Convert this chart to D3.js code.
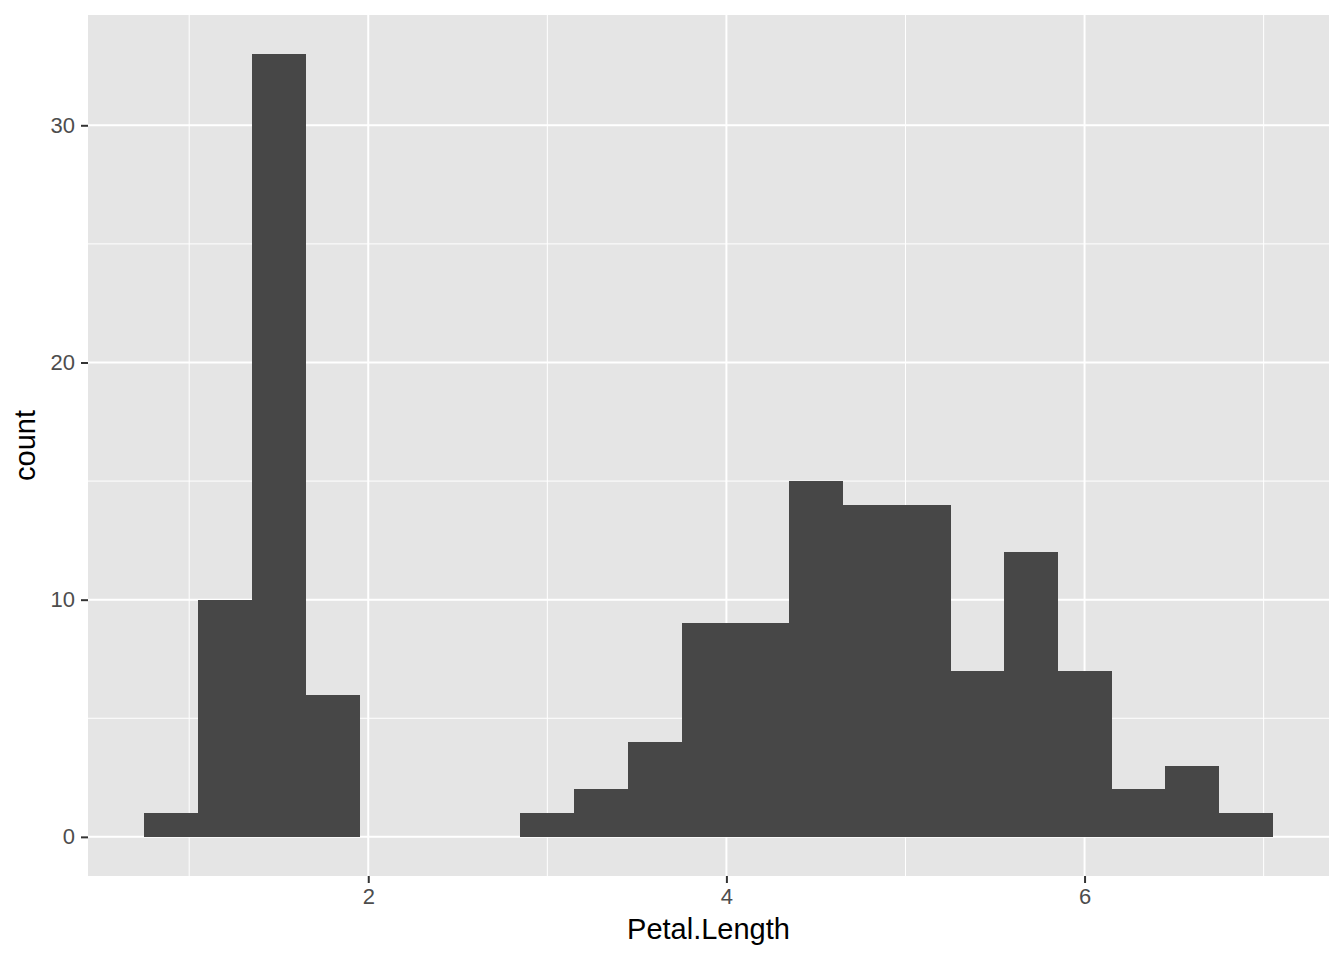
<!DOCTYPE html>
<html lang="en">
<head>
<meta charset="UTF-8">
<title>Petal.Length histogram</title>
<style>
  body { margin: 0; background: #fff; }
  text { font-family: "Liberation Sans", Arial, sans-serif; }
</style>
</head>
<body>
<svg width="1344" height="960"></svg>
<script src="https://cdn.jsdelivr.net/npm/d3@7"></script>
<script>
// histogram bins of iris Petal.Length, binwidth 0.3
var binStarts = [0.75, 1.05, 1.35, 1.65, 1.95, 2.25, 2.55, 2.85, 3.15, 3.45, 3.75,
                 4.05, 4.35, 4.65, 4.95, 5.25, 5.55, 5.85, 6.15, 6.45, 6.75];
var binWidth = 0.3;
var counts = [1, 10, 33, 6, 0, 0, 0, 1, 2, 4, 9, 9, 15, 14, 14, 7, 12, 7, 2, 3, 1];
var xTicks = [2, 4, 6];
var xMinor = [1, 3, 5, 7];
var yTicks = [0, 10, 20, 30];
var yMinor = [5, 15, 25];

var svg = d3.select("svg"),
    margin = {top: 15, right: 15, bottom: 84, left: 88},
    width = 1344 - margin.left - margin.right,
    height = 960 - margin.top - margin.bottom;

var g = svg.append("g").attr("transform", "translate(" + margin.left + "," + margin.top + ")");

// ggplot-style 5% expansion
var xMin = binStarts[0], xMax = binStarts[binStarts.length - 1] + binWidth;
var xPad = (xMax - xMin) * 0.05;
var x = d3.scaleLinear().domain([xMin - xPad, xMax + xPad]).range([0, width]);
var yMax = d3.max(counts);
var y = d3.scaleLinear().domain([-yMax * 0.05, yMax * 1.05]).range([height, 0]);

// panel
g.append("rect").attr("width", width).attr("height", height).attr("fill", "#E5E5E5");

// grid
function vlines(vals, w) {
  g.append("g").selectAll("line").data(vals).enter().append("line")
      .attr("x1", function(d) { return x(d); }).attr("x2", function(d) { return x(d); })
      .attr("y1", 0).attr("y2", height)
      .attr("stroke", "#fff").attr("stroke-width", w);
}
function hlines(vals, w) {
  g.append("g").selectAll("line").data(vals).enter().append("line")
      .attr("y1", function(d) { return y(d); }).attr("y2", function(d) { return y(d); })
      .attr("x1", 0).attr("x2", width)
      .attr("stroke", "#fff").attr("stroke-width", w);
}
vlines(xMinor, 1);
hlines(yMinor, 1);
vlines(xTicks, 2);
hlines(yTicks, 2);

// bars
g.append("g").attr("shape-rendering", "crispEdges")
  .selectAll("rect").data(counts).enter().append("rect")
    .attr("x", function(d, i) { return x(binStarts[i]); })
    .attr("width", function(d, i) { return x(binStarts[i] + binWidth) - x(binStarts[i]) + 0.5; })
    .attr("y", function(d) { return y(d); })
    .attr("height", function(d) { return y(0) - y(d); })
    .attr("fill", "#474747");

// axes
var xAxis = g.append("g").attr("transform", "translate(0," + height + ")")
    .call(d3.axisBottom(x).tickValues(xTicks).tickSize(7).tickPadding(5).tickFormat(d3.format("d")));
var yAxis = g.append("g")
    .call(d3.axisLeft(y).tickValues(yTicks).tickSize(7).tickPadding(6).tickFormat(d3.format("d")));
[xAxis, yAxis].forEach(function(a) {
  a.attr("font-size", null).attr("font-family", null);
  a.select(".domain").remove();
  a.selectAll("line").attr("stroke", "#333").attr("stroke-width", 2);
  a.selectAll("text").attr("fill", "#4D4D4D").style("font-size", "22px");
});

// axis titles
svg.append("text")
    .attr("x", margin.left + width / 2).attr("y", 939)
    .attr("text-anchor", "middle").attr("fill", "#000")
    .style("font-size", "29px")
    .text("Petal.Length");
svg.append("text")
    .attr("transform", "translate(35," + (margin.top + height / 2) + ") rotate(-90)")
    .attr("text-anchor", "middle").attr("fill", "#000")
    .style("font-size", "29px")
    .text("count");
</script>
</body>
</html>
